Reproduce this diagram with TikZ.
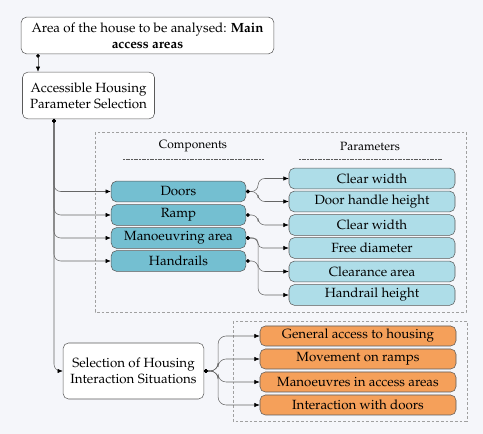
\documentclass[tikz,border=0pt]{standalone}
\usepackage[T1]{fontenc}
\usepackage{mathpazo}
\usetikzlibrary{arrows.meta}

\definecolor{pagebg}{HTML}{F5F6FA}
\definecolor{boxline}{HTML}{5A5A5A}
\definecolor{linkline}{HTML}{666666}
\definecolor{compfill}{HTML}{74BFD1}
\definecolor{parfill}{HTML}{AEDDE8}
\definecolor{sitfill}{HTML}{F5A05A}
\definecolor{frameline}{HTML}{A0A0A0}

\begin{document}
\begin{tikzpicture}[x=0.75pt,y=-0.75pt,
  box/.style={draw=boxline,rounded corners=4pt,align=center,inner sep=1pt},
  whitebox/.style={box,fill=white},
  compbox/.style={box,fill=compfill,minimum width=101pt,minimum height=15.5pt},
  parbox/.style={box,fill=parfill,minimum width=124.5pt,minimum height=15.5pt},
  sitbox/.style={box,fill=sitfill,minimum width=147pt,minimum height=15pt},
  frame/.style={draw=frameline,dash pattern=on 2pt off 1.5pt,thin},
  link/.style={draw=linkline,{Circle[length=2.8pt,color=black]}-{Latex[length=4pt,width=3.2pt,color=black]},rounded corners=5pt}]
\useasboundingbox[fill=pagebg] (0,0) rectangle (483,434);

% frames
\draw[frame] (95,132) rectangle (466,312);
\draw[frame] (233,321) rectangle (467,421);

% headers
\node[font=\small] (comphead) at (193,146) {Components};
\node[font=\small] (parhead) at (370,146) {Parameters};
\draw[draw=boxline,dash pattern=on 1.5pt off 0.5pt,very thin] (123,159) -- (264,159);
\draw[draw=boxline,dash pattern=on 1.5pt off 0.5pt,very thin] (299,159) -- (442,159);

% main boxes
\node[whitebox,minimum width=189.5pt,minimum height=27.5pt] (area) at (147.5,35.5)
  {Area of the house to be analysed: \textbf{Main}\\\textbf{access areas}};
\node[whitebox,minimum width=99pt,minimum height=35pt] (acc) at (88.5,95.5)
  {Accessible Housing\\Parameter Selection};
\node[whitebox,minimum width=105.5pt,minimum height=42pt] (sel) at (133.5,371)
  {Selection of Housing\\Interaction Situations};

% components
\node[compbox] (doors) at (178.5,191.5) {Doors};
\node[compbox] (ramp)  at (178.5,215)   {Ramp};
\node[compbox] (mano)  at (178.5,238)   {Manoeuvring area};
\node[compbox] (hand)  at (178.5,261)   {Handrails};

% parameters
\node[parbox] (cw1) at (372,178.5) {Clear width};
\node[parbox] (dhh) at (372,201.5) {Door handle height};
\node[parbox] (cw2) at (372,225)   {Clear width};
\node[parbox] (fd)  at (372,248)   {Free diameter};
\node[parbox] (ca)  at (372,271.5) {Clearance area};
\node[parbox] (hh)  at (372,295)   {Handrail height};

% situations
\node[sitbox] (gen)  at (358,336) {General access to housing};
\node[sitbox] (mov)  at (358,359) {Movement on ramps};
\node[sitbox] (man)  at (358,382) {Manoeuvres in access areas};
\node[sitbox] (int)  at (358,405) {Interaction with doors};

% connectors
\coordinate (drop) at (38,54);
\coordinate (split) at (54,119);
\draw[link] (drop) -- (drop |- acc.north);
\draw[link] (split) |- (doors.west);
\draw[link] (split) |- (ramp.west);
\draw[link] (split) |- (mano.west);
\draw[link] (split) |- (hand.west);
\draw[link] (split) |- (sel.west);

\draw[link] (doors.east) -- ++(12,0) |- (cw1.west);
\draw[link] (doors.east) -- ++(12,0) |- (dhh.west);
\draw[link] (ramp.east) -- ++(12,0) |- (cw2.west);
\draw[link,rounded corners=3.5pt] (mano.east) -- ++(12,0) |- (fd.west);
\draw[link] (mano.east) -- ++(12,0) |- (ca.west);
\draw[link] (hand.east) -- ++(12,0) |- (hh.west);

\draw[link,rounded corners=6pt] (sel.east) -- ++(14,0) |- (gen.west);
\draw[link,rounded corners=6pt] (sel.east) -- ++(14,0) |- (mov.west);
\draw[link,rounded corners=6pt] (sel.east) -- ++(14,0) |- (man.west);
\draw[link,rounded corners=6pt] (sel.east) -- ++(14,0) |- (int.west);
\end{tikzpicture}
\end{document}
